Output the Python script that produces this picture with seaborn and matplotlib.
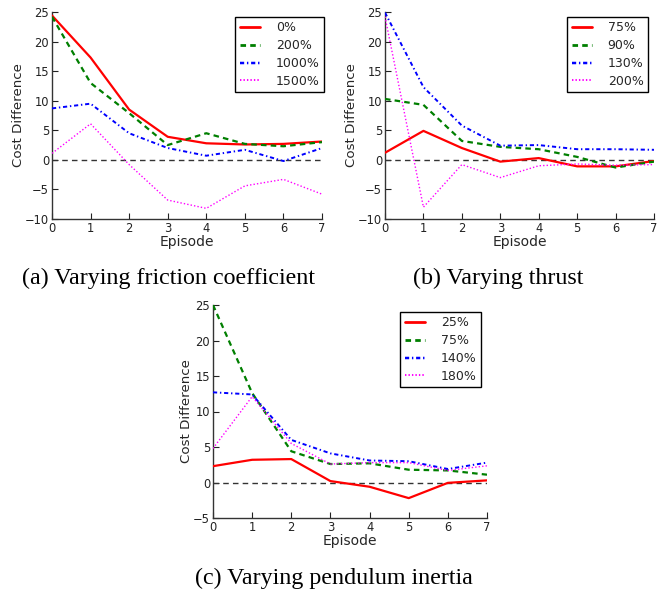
import numpy as np
import pandas as pd
import matplotlib
matplotlib.use("Agg")
import matplotlib.pyplot as plt
import seaborn as sns

episodes = [0, 1, 2, 3, 4, 5, 6, 7]

# (a) Varying friction coefficient
labels_a = ["0%", "200%", "1000%", "1500%"]
fric_0 = [24.4, 17.3, 8.5, 3.9, 2.8, 2.6, 2.7, 3.1]
fric_200 = [24.2, 13.0, 7.9, 2.5, 4.5, 2.7, 2.3, 3.0]
fric_1000 = [8.7, 9.5, 4.5, 2.0, 0.7, 1.7, -0.2, 2.0]
fric_1500 = [1.1, 6.1, -0.8, -6.8, -8.2, -4.4, -3.3, -5.8]

# (b) Varying thrust
labels_b = ["75%", "90%", "130%", "200%"]
thr_75 = [1.2, 4.9, 2.0, -0.3, 0.3, -1.1, -1.1, -0.2]
thr_90 = [10.3, 9.3, 3.2, 2.2, 1.8, 0.5, -1.3, -0.3]
thr_130 = [24.9, 12.3, 5.8, 2.4, 2.5, 1.8, 1.8, 1.7]
thr_200 = [24.2, -8.0, -0.8, -3.0, -1.0, -0.7, -0.9, -0.8]

# (c) Varying pendulum inertia
labels_c = ["25%", "75%", "140%", "180%"]
ine_25 = [2.3, 3.2, 3.3, 0.2, -0.6, -2.2, -0.05, 0.3]
ine_75 = [25.0, 12.6, 4.4, 2.6, 2.7, 1.8, 1.7, 1.1]
ine_140 = [12.7, 12.4, 6.0, 4.1, 3.1, 3.0, 1.9, 2.8]
ine_180 = [4.8, 12.1, 5.5, 2.6, 2.8, 2.8, 1.7, 2.35]

captions = ["(a) Varying friction coefficient", "(b) Varying thrust",
            "(c) Varying pendulum inertia"]

sns.set_theme(style="ticks")
plt.rcParams["font.family"] = ["DejaVu Sans"]
plt.rcParams["lines.scale_dashes"] = False

colors = ["#ff0000", "#007f00", "#0000ff", "#ff00ff"]
dash_list = ["", (4, 3), (3, 2, 1, 2), (1, 1.5)]
widths = [1.6, 1.6, 1.4, 1.0]

W, H = 668, 593
fig = plt.figure(figsize=(W / 100, H / 100), dpi=100)


def make_ax(left, right, top, bottom):
    return fig.add_axes([left / W, (H - bottom) / H, (right - left) / W, (bottom - top) / H])


def panel(ax, labels, series, ylim, yticks, leg_right_px, leg_top_px):
    rows = []
    for lab, vals in zip(labels, series):
        for e, v in zip(episodes, vals):
            rows.append({"Episode": e, "Cost": v, "Setting": lab})
    df = pd.DataFrame(rows)
    ax.axhline(0, color="#333333", lw=1.0, ls=(0, (4, 3)), zorder=1)
    sns.lineplot(data=df, x="Episode", y="Cost", hue="Setting", style="Setting",
                 hue_order=labels, style_order=labels,
                 palette=dict(zip(labels, colors)), dashes=dict(zip(labels, dash_list)),
                 ax=ax, legend=True, zorder=3)
    for line, lw in zip(ax.get_lines()[1:], widths):
        line.set_linewidth(lw)
    ax.set_xlim(0, 7)
    ax.set_ylim(*ylim)
    ax.set_yticks(yticks)
    ax.set_xticks(episodes)
    ax.set_xlabel("Episode", fontsize=10, labelpad=0)
    ax.set_ylabel("Cost Difference", fontsize=9.6, labelpad=0)
    ax.tick_params(direction="in", length=4, width=0.8, labelsize=8.3, pad=2, colors="#222222")
    for s in ["top", "right"]:
        ax.spines[s].set_visible(False)
    for s in ["left", "bottom"]:
        ax.spines[s].set_color("#333333")
        ax.spines[s].set_linewidth(1.0)
    handles, labs = ax.get_legend_handles_labels()
    for h, lw in zip(handles, widths):
        h.set_linewidth(lw + 0.4)
    bb = ax.get_position()
    ax_w = bb.width * W
    ax_h = bb.height * H
    ax_left = bb.x0 * W
    ax_top = (1 - bb.y1) * H
    ax_x = (leg_right_px - ax_left) / ax_w
    ax_y = 1 - (leg_top_px - ax_top) / ax_h
    leg = ax.legend(handles, labs, loc="upper right", bbox_to_anchor=(ax_x, ax_y),
                    borderaxespad=0, fontsize=9, frameon=True, fancybox=False,
                    handlelength=1.6, handletextpad=1.3, borderpad=0.35, labelspacing=0.38)
    leg.get_frame().set_edgecolor("black")
    leg.get_frame().set_linewidth(1.0)
    leg.get_frame().set_alpha(1)


ax_a = make_ax(52, 322, 12, 219)
panel(ax_a, labels_a, [fric_0, fric_200, fric_1000, fric_1500], (-10, 25),
      [-10, -5, 0, 5, 10, 15, 20, 25], 324, 17)
ax_b = make_ax(385, 654, 12, 219)
panel(ax_b, labels_b, [thr_75, thr_90, thr_130, thr_200], (-10, 25),
      [-10, -5, 0, 5, 10, 15, 20, 25], 648, 17)
ax_c = make_ax(213, 487, 305, 518)
panel(ax_c, labels_c, [ine_25, ine_75, ine_140, ine_180], (-5, 25),
      [-5, 0, 5, 10, 15, 20, 25], 481, 312)

cap_font = dict(family="Liberation Serif", fontsize=17.3, color="black", ha="center", va="center")
fig.text(168 / W, 1 - 278 / H, captions[0], **cap_font)
fig.text(498 / W, 1 - 278 / H, captions[1], **cap_font)
fig.text(334 / W, 1 - 578 / H, captions[2], **cap_font)

fig.savefig("out.png", dpi=100)
